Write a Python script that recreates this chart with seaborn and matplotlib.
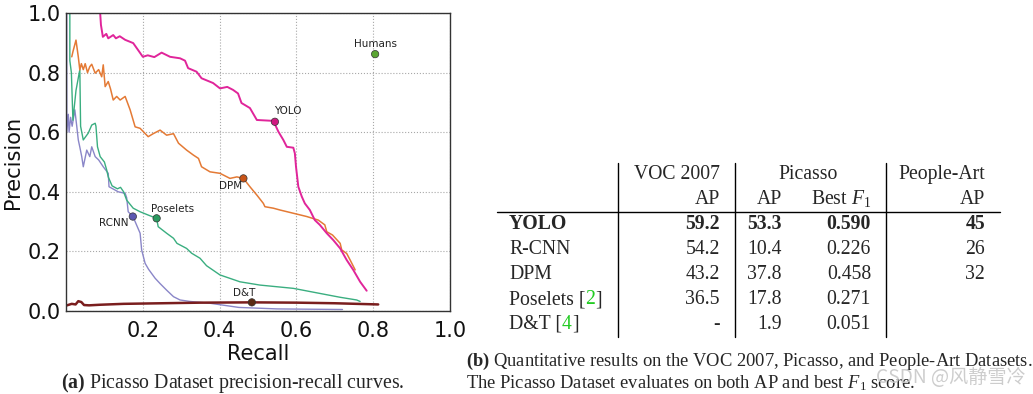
import numpy as np
import pandas as pd
import seaborn as sns
import matplotlib
matplotlib.use("Agg")
from matplotlib import pyplot as plt

# precision-recall curves
yolo_recall = [0.0, 0.089, 0.091, 0.096, 0.105, 0.110, 0.123, 0.130, 0.140, 0.154, 0.175, 0.193, 0.200,
               0.213, 0.230, 0.249, 0.271, 0.297, 0.310, 0.318, 0.340, 0.353, 0.383, 0.401, 0.420,
               0.435, 0.448, 0.457, 0.479, 0.497, 0.540, 0.553, 0.566, 0.575, 0.592, 0.596, 0.599,
               0.605, 0.614, 0.622, 0.635, 0.648, 0.661, 0.679, 0.696, 0.714, 0.731, 0.748, 0.766, 0.783]
yolo_precision = [1.0, 1.0, 0.96, 0.92, 0.93, 0.915, 0.926, 0.915, 0.922, 0.91, 0.899, 0.866, 0.853,
                  0.858, 0.852, 0.867, 0.853, 0.848, 0.84, 0.815, 0.803, 0.781, 0.765, 0.747, 0.752,
                  0.742, 0.73, 0.698, 0.681, 0.641, 0.638, 0.602, 0.574, 0.551, 0.548, 0.529, 0.484,
                  0.417, 0.384, 0.361, 0.339, 0.305, 0.289, 0.261, 0.238, 0.21, 0.171, 0.138, 0.098, 0.068]

dpm_recall = [0.015, 0.018, 0.026, 0.032, 0.036, 0.040, 0.045, 0.050, 0.056, 0.062, 0.067, 0.076, 0.085,
              0.093, 0.097, 0.102, 0.110, 0.116, 0.123, 0.132, 0.141, 0.154, 0.167, 0.180, 0.193, 0.214,
              0.227, 0.245, 0.262, 0.280, 0.293, 0.314, 0.332, 0.345, 0.353, 0.375, 0.401, 0.427, 0.445,
              0.462, 0.479, 0.497, 0.514, 0.518, 0.540, 0.557, 0.592, 0.627, 0.657, 0.674, 0.679, 0.694,
              0.714, 0.718, 0.731, 0.740, 0.753]
dpm_precision = [0.853, 0.87, 0.909, 0.853, 0.809, 0.83, 0.81, 0.83, 0.80, 0.82, 0.828, 0.798, 0.81,
                 0.786, 0.826, 0.753, 0.77, 0.745, 0.708, 0.72, 0.708, 0.72, 0.675, 0.618, 0.613, 0.585,
                 0.595, 0.607, 0.59, 0.595, 0.563, 0.54, 0.523, 0.512, 0.484, 0.467, 0.462, 0.445, 0.45,
                 0.445, 0.417, 0.389, 0.361, 0.35, 0.345, 0.339, 0.328, 0.317, 0.305, 0.289, 0.266, 0.255,
                 0.227, 0.205, 0.193, 0.171, 0.138]

poselets_recall = [0.010, 0.010, 0.014, 0.018, 0.026, 0.036, 0.038, 0.045, 0.058, 0.067, 0.076, 0.078,
                   0.082, 0.089, 0.100, 0.106, 0.110, 0.120, 0.134, 0.142, 0.150, 0.158, 0.175, 0.193,
                   0.214, 0.236, 0.240, 0.262, 0.280, 0.289, 0.314, 0.327, 0.349, 0.366, 0.401, 0.453,
                   0.505, 0.592, 0.661, 0.714, 0.757, 0.766]
poselets_precision = [1.0, 0.84, 0.80, 0.64, 0.74, 0.81, 0.62, 0.574, 0.597, 0.624, 0.63, 0.62,
                      0.551, 0.518, 0.50, 0.473, 0.45, 0.42, 0.41, 0.415, 0.40, 0.372, 0.345, 0.333,
                      0.322, 0.311, 0.283, 0.261, 0.244, 0.227, 0.21, 0.194, 0.177, 0.152, 0.121, 0.098,
                      0.087, 0.076, 0.059, 0.046, 0.037, 0.032]

rcnn_recall = [0.002, 0.002, 0.006, 0.008, 0.012, 0.016, 0.023, 0.028, 0.032, 0.036, 0.041, 0.045,
               0.054, 0.062, 0.067, 0.076, 0.085, 0.097, 0.110, 0.112, 0.122, 0.136, 0.154, 0.158,
               0.162, 0.174, 0.180, 0.193, 0.197, 0.206, 0.215, 0.232, 0.245, 0.262, 0.280, 0.297,
               0.323, 0.375, 0.450, 0.550, 0.720]
rcnn_precision = [1.0, 0.60, 0.66, 0.60, 0.65, 0.62, 0.675, 0.62, 0.574, 0.55, 0.518, 0.484,
                  0.54, 0.518, 0.551, 0.518, 0.507, 0.484, 0.462, 0.417, 0.41, 0.40, 0.395, 0.38,
                  0.333, 0.317, 0.30, 0.261, 0.205, 0.16, 0.14, 0.11, 0.092, 0.07, 0.048, 0.037,
                  0.032, 0.026, 0.012, 0.007, 0.005]

dt_recall = [0.0, 0.015, 0.025, 0.032, 0.040, 0.047, 0.060, 0.089, 0.150, 0.250, 0.350, 0.485,
             0.600, 0.700, 0.813]
dt_precision = [0.018, 0.024, 0.022, 0.033, 0.030, 0.020, 0.019, 0.021, 0.024, 0.026, 0.028, 0.029,
                0.028, 0.026, 0.022]

# operating points with labels
point_names = ["Humans", "YOLO", "DPM", "Poselets", "RCNN", "D&T"]
point_recall = [0.805, 0.544, 0.462, 0.236, 0.174, 0.484]
point_precision = [0.862, 0.635, 0.445, 0.311, 0.317, 0.029]

# table contents
methods = ["YOLO", "R-CNN", "DPM", "Poselets", "D&T"]
method_refs = ["", "", "", "2", "4"]
voc_ap = ["59.2", "54.2", "43.2", "36.5", "-"]
picasso_ap = ["53.3", "10.4", "37.8", "17.8", "1.9"]
picasso_f1 = ["0.590", "0.226", "0.458", "0.271", "0.051"]
people_art_ap = ["45", "26", "32", "", ""]

sns.set_style("white")
plt.rcParams["font.family"] = ["DejaVu Sans"]
plt.rcParams["mathtext.fontset"] = "custom"
plt.rcParams["mathtext.rm"] = "Liberation Serif"
plt.rcParams["mathtext.it"] = "Liberation Serif:italic"
plt.rcParams["mathtext.bf"] = "Liberation Serif:bold"

W, H = 1033, 394
def fx(px):
    return px / W
def fy(py):
    return 1 - py / H

fig = plt.figure(figsize=(W / 100, H / 100), dpi=100)
ax = fig.add_axes([fx(66), fy(311), fx(450) - fx(66), fy(13) - fy(311)])

curves = [
    ("RCNN", rcnn_recall, rcnn_precision, "#8a86c8", 1.0),
    ("Poselets", poselets_recall, poselets_precision, "#3aae80", 1.0),
    ("DPM", dpm_recall, dpm_precision, "#e47a35", 1.1),
    ("YOLO", yolo_recall, yolo_precision, "#e0259a", 1.4),
    ("D&T", dt_recall, dt_precision, "#7a1e1e", 1.8),
]
for name, rec, prec, col, lw in curves:
    d = pd.DataFrame({"recall": rec, "precision": prec})
    sns.lineplot(data=d, x="recall", y="precision", sort=False, estimator=None,
                 color=col, linewidth=lw, ax=ax)

pts = pd.DataFrame({"name": point_names, "recall": point_recall, "precision": point_precision})
point_colors = {"Humans": "#5aa532", "YOLO": "#d01880", "DPM": "#c85418", "Poselets": "#2a9a60",
                "RCNN": "#5c58b0", "D&T": "#5a2a14"}
sns.scatterplot(data=pts, x="recall", y="precision", hue="name", palette=point_colors,
                s=28, edgecolor="#333333", linewidth=0.5, legend=False, zorder=5, ax=ax)

offsets = {"Humans": (0, 5), "YOLO": (9.5, 5.5), "DPM": (-9.5, -7.7), "Poselets": (11.5, 4.6),
           "RCNN": (-14, -6.7), "D&T": (-5.5, 4.5)}
for n, r, p in zip(point_names, point_recall, point_precision):
    ax.annotate(n, (r, p), xytext=offsets[n], textcoords="offset points",
                ha="center", va="baseline", fontsize=7.5, color="#222222")

ax.set_xlim(0, 1)
ax.set_ylim(0, 1)
ax.set_xticks([0.2, 0.4, 0.6, 0.8, 1.0])
ax.set_xticklabels(["0.2", "0.4", "0.6", "0.8", "1.0"])
ax.set_yticks([0.0, 0.2, 0.4, 0.6, 0.8, 1.0])
ax.set_yticklabels(["0.0", "0.2", "0.4", "0.6", "0.8", "1.0"])
ax.tick_params(axis="both", labelsize=15, length=0, pad=4, colors="#111111")
ax.tick_params(axis="x", pad=7)
ax.set_xlabel("Recall", fontsize=15, labelpad=2, color="#111111")
ax.set_ylabel("Precision", fontsize=15, labelpad=3, color="#111111")
ax.grid(True, linestyle=":", color="#a8a8a8", linewidth=0.8)
for s in ax.spines.values():
    s.set_color("#333333")
    s.set_linewidth(1.0)

fig.text(fx(233), fy(388), r"$\mathbf{(a)}$ Picasso Dataset precision-recall curves.",
         ha="center", va="baseline", fontsize=14.3, family="Liberation Serif")

# table (b)
serif = "Liberation Serif"
tsize = 14.2
renderer = fig.canvas.get_renderer()
header_y1, header_y2 = 179, 204
row_ys = [229, 254, 279, 304, 329]
col_voc, col_pap, col_f1, col_art = 720, 782, 871, 985
label_x = 509

fig.text(fx(col_voc), fy(header_y1), "VOC 2007", ha="right", va="baseline", fontsize=tsize, family=serif)
fig.text(fx(808), fy(header_y1), "Picasso", ha="center", va="baseline", fontsize=tsize, family=serif)
fig.text(fx(col_art), fy(header_y1), "People-Art", ha="right", va="baseline", fontsize=tsize, family=serif)
fig.text(fx(col_voc), fy(header_y2), "AP", ha="right", va="baseline", fontsize=tsize, family=serif)
fig.text(fx(col_pap), fy(header_y2), "AP", ha="right", va="baseline", fontsize=tsize, family=serif)
fig.text(fx(col_f1), fy(header_y2), r"Best $F_1$", ha="right", va="baseline", fontsize=tsize, family=serif)
fig.text(fx(col_art), fy(header_y2), "AP", ha="right", va="baseline", fontsize=tsize, family=serif)

for i, y in enumerate(row_ys):
    wt = "bold" if i == 0 else "normal"
    if method_refs[i]:
        t = fig.text(fx(label_x), fy(y), methods[i] + " [", ha="left", va="baseline",
                     fontsize=tsize, family=serif)
        x1 = t.get_window_extent(renderer).x1
        t2 = fig.text(x1 / W, fy(y), method_refs[i], ha="left", va="baseline",
                      fontsize=tsize, family=serif, color="#22cc22")
        x2 = t2.get_window_extent(renderer).x1
        fig.text(x2 / W, fy(y), "]", ha="left", va="baseline", fontsize=tsize, family=serif)
    else:
        fig.text(fx(label_x), fy(y), methods[i], ha="left", va="baseline",
                 fontsize=tsize, family=serif, fontweight=wt)
    for col, vals in [(col_voc, voc_ap), (col_pap, picasso_ap), (col_f1, picasso_f1), (col_art, people_art_ap)]:
        if vals[i]:
            fig.text(fx(col), fy(y), vals[i], ha="right", va="baseline", fontsize=tsize,
                     family=serif, fontweight=wt)

fig.add_artist(plt.Line2D([fx(497), fx(1000)], [fy(212), fy(212)], color="black", linewidth=1.0))
for vx in [618, 735, 886]:
    fig.add_artist(plt.Line2D([fx(vx), fx(vx)], [fy(163), fy(337)], color="black", linewidth=1.0))

fig.text(fx(466), fy(366), r"$\mathbf{(b)}$ Quantitative results on the VOC 2007, Picasso, and People-Art Datasets.",
         ha="left", va="baseline", fontsize=13.3, family=serif)
fig.text(fx(466), fy(388), r"The Picasso Dataset evaluates on both AP and best $F_1$ score.",
         ha="left", va="baseline", fontsize=13.3, family=serif)

fig.text(fx(876), fy(383), "CSDN @风静雪冷", ha="left", va="baseline", fontsize=13.8,
         family=["Noto Sans CJK SC", "DejaVu Sans"], color="#c8c8c8", alpha=0.9)

fig.savefig("out.png", dpi=100)
